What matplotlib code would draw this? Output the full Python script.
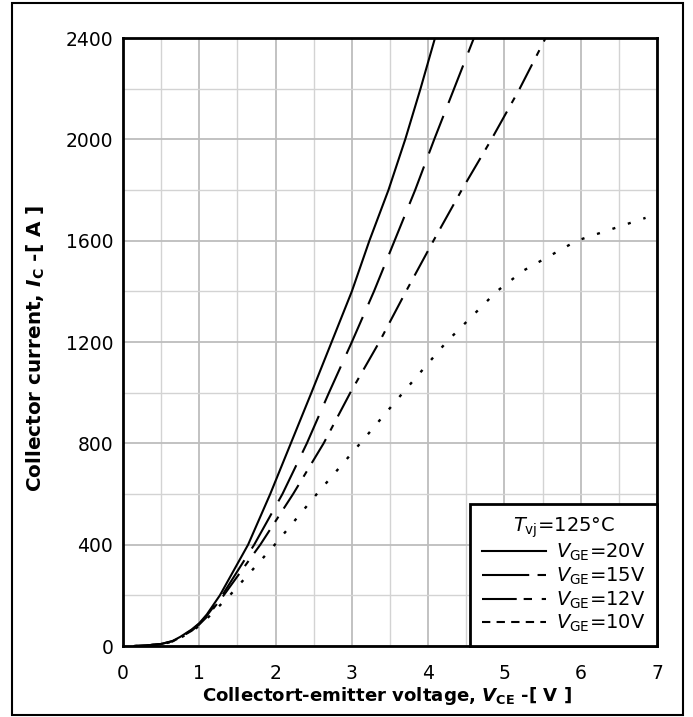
import matplotlib
matplotlib.use("Agg")
import matplotlib.pyplot as plt
from matplotlib.lines import Line2D
from matplotlib.patches import Rectangle
from matplotlib.font_manager import FontProperties
import numpy as np

plt.rcParams['font.family'] = ['DejaVu Sans']
plt.rcParams['mathtext.fontset'] = 'dejavusans'
plt.rcParams['lines.scale_dashes'] = False

# output characteristic, Tvj = 125 C
vce_20 = [0.15, 0.3, 0.5, 0.65, 0.75, 0.9, 1.0, 1.1, 1.27, 1.64, 1.93, 2.20, 2.47, 2.735, 3.0, 3.23, 3.48, 3.70, 3.90, 4.09]
ic_20 = [0, 2, 8, 20, 36, 65, 90, 125, 200, 400, 600, 800, 1000, 1200, 1400, 1600, 1800, 2000, 2200, 2400]

vce_15 = [0.15, 0.3, 0.5, 0.65, 0.75, 0.9, 1.0, 1.1, 1.30, 1.72, 2.09, 2.41, 2.70, 3.0, 3.29, 3.56, 3.83, 4.08, 4.34, 4.60]
ic_15 = [0, 2, 8, 19, 35, 63, 88, 120, 200, 400, 600, 800, 1000, 1200, 1400, 1600, 1800, 2000, 2200, 2400]

vce_12 = [0.15, 0.3, 0.5, 0.65, 0.75, 0.9, 1.0, 1.1, 1.32, 1.80, 2.23, 2.63, 2.98, 3.36, 3.71, 4.07, 4.44, 4.83, 5.20, 5.54]
ic_12 = [0, 2, 8, 18, 34, 60, 85, 115, 200, 400, 600, 800, 1000, 1200, 1400, 1600, 1800, 2000, 2200, 2400]

vce_10 = [0.15, 0.3, 0.5, 0.65, 0.75, 0.9, 1.0, 1.1, 1.40, 1.99, 2.54, 3.11, 3.67, 4.24, 4.90, 5.25, 5.95, 6.85]
ic_10 = [0, 2, 7, 17, 32, 57, 80, 108, 200, 400, 600, 800, 1000, 1200, 1400, 1482, 1600, 1690]

labels = ["$V_{\\mathrm{GE}}$=20V", "$V_{\\mathrm{GE}}$=15V", "$V_{\\mathrm{GE}}$=12V", "$V_{\\mathrm{GE}}$=10V"]
legend_title = "$T_{\\mathrm{vj}}$=125°C"

fig = plt.figure(figsize=(6.93, 7.17), dpi=100)
ax = fig.add_axes([123/693, 1 - 646/717, 534/693, 608/717])

lw = 1.5
ax.plot(vce_20, ic_20, color='black', lw=lw)
l15, = ax.plot(vce_15, ic_15, color='black', lw=lw)
l15.set_dashes((29, 10))
l12, = ax.plot(vce_12, ic_12, color='black', lw=lw)
l12.set_dashes((20, 7, 4.5, 7))
l10, = ax.plot(vce_10, ic_10, color='black', lw=1.7)
l10.set_dashes((2.2, 9.5))

ax.set_xlim(0, 7)
ax.set_ylim(0, 2400)
ax.set_xticks(np.arange(0, 8, 1))
ax.set_yticks(np.arange(0, 2401, 400))
ax.set_xticks(np.arange(0.5, 7, 1), minor=True)
ax.set_yticks(np.arange(200, 2400, 400), minor=True)
ax.grid(True, which='major', color='#bdbdbd', lw=1.3)
ax.grid(True, which='minor', color='#d3d3d3', lw=1.0)
ax.set_axisbelow(True)
ax.tick_params(which='both', length=0, labelsize=13.5)
ax.tick_params(axis='x', pad=13)
ax.tick_params(axis='y', pad=7)
for s in ax.spines.values():
    s.set_linewidth(2)

ax.set_xlabel("Collectort-emitter voltage, $\\mathbfit{V}_{\\mathbf{CE}}$ -[ V ]",
              fontsize=13.1, fontweight='bold', va='center')
ax.xaxis.set_label_coords(0.495, -0.0822)
ax.set_ylabel("Collector current, $\\mathbfit{I}_{\\mathbf{C}}$ -[ A ]",
              fontsize=14.4, fontweight='bold', va='center', ha='center')
ax.yaxis.set_label_coords(-0.163, 0.489)

# legend with handles drawn like the datasheet key
h20 = Line2D([], [], color='black', lw=lw)
h15 = Line2D([], [], color='black', lw=lw, dashes=(34, 6, 7, 6))
h12 = Line2D([], [], color='black', lw=lw, dashes=(25, 5, 6, 7, 6, 5))
h10 = Line2D([], [], color='black', lw=lw, dashes=(6, 4.5))
leg_font = FontProperties(family='DejaVu Sans', size=14)
leg = ax.legend([h20, h15, h12, h10], labels, title=legend_title, loc='lower right',
                borderaxespad=0, fancybox=False, framealpha=1, edgecolor='black',
                prop=leg_font, title_fontproperties=leg_font, handlelength=3.3,
                handletextpad=0.5, labelspacing=0.12, borderpad=0.6)
leg.get_frame().set_linewidth(2)

fig.patches.append(Rectangle((12/693, 1 - 715/717), 671/693, 712/717, transform=fig.transFigure,
                             fill=False, edgecolor='black', lw=1.5))

fig.savefig("out.png", dpi=100)
